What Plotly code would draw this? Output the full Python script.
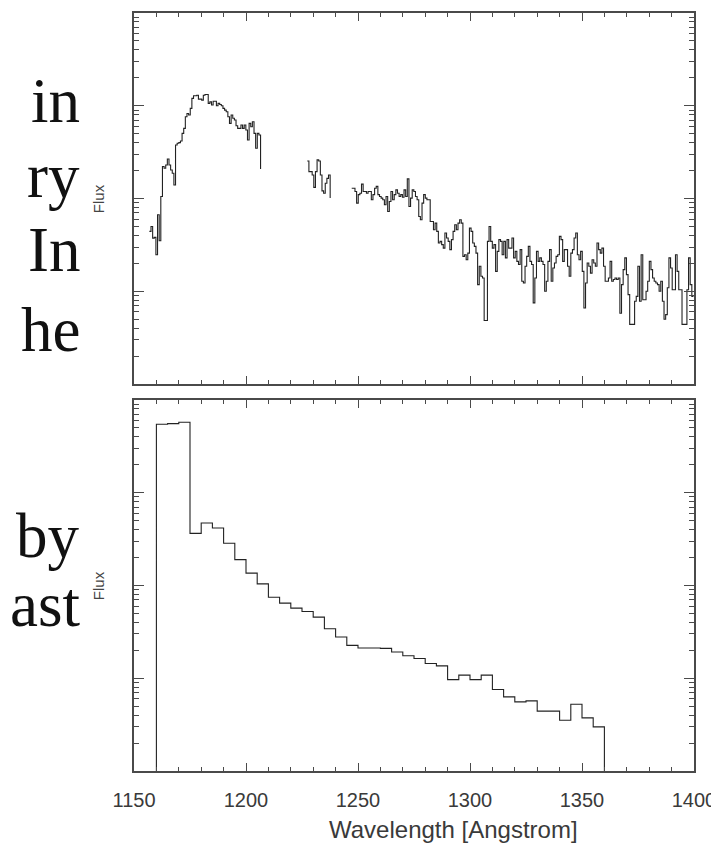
import plotly.graph_objects as go

# ---------------- data ----------------
# Top panel: observed spectrum (flux in arbitrary units, log axis), uniform dispersion
disp = 0.73  # Angstrom per bin
seg1_start = 1156.86
seg1_flux = [4.42, 5.00, 3.74, 3.81, 2.48, 6.67, 3.51, 10.5, 22.1, 21.2, 23.0, 26.7, 23.0, 20.3,
             18.7, 14.0, 37.8, 39.4, 40.0, 41.7, 50.4, 57.0, 76.2, 82.6, 79.4, 93.6, 120, 128,
             128, 130, 118, 118, 115, 130, 132, 132, 106, 110, 102, 112, 112, 100, 106, 103,
             100, 93.6, 89.8, 86.1, 76.2, 64.6, 79.4, 73.2, 70.2, 60.9, 57.0, 57.0, 62.0, 57.0,
             62.0, 54.7, 42.8, 64.6, 59.4, 67.3, 50.4, 34.8, 50.4, 48.4, 20.8]
seg2_start = 1227.35
seg2_flux = [25.4, 19.5, 19.5, 17.9, 13.2, 19.5, 26.1, 25.4, 17.9, 12.1, 11.4, 14.6, 16.5, 17.9, 10.1]
seg3_start = 1247.19
seg3_flux = [12.9, 12.9, 11.9, 8.91, 11.0, 11.4, 14.3, 11.9, 11.9, 11.4, 11.9, 11.9, 9.68, 11.0,
             12.9, 13.5, 11.0, 10.5, 10.1, 9.68, 8.55, 10.5, 7.24, 9.29, 11.9, 9.68, 11.0, 12.4,
             11.4, 10.5, 11.0, 10.3, 12.4, 10.5, 16.3, 8.20, 10.1, 12.4, 11.9, 10.5, 9.68, 6.41,
             5.90, 8.91, 11.0, 10.1, 9.68, 9.68, 5.66, 5.66, 4.60, 5.43, 4.42, 3.31, 3.45, 3.18,
             2.92, 4.24, 3.75, 3.45, 2.81, 3.60, 4.42, 5.21, 4.60, 5.43, 5.90, 5.43, 2.38, 2.48,
             2.19, 2.58, 4.80, 4.42, 3.31, 3.05, 2.58, 1.18, 1.86, 1.45, 1.39, 0.484, 0.484, 3.45,
             5.00, 3.45, 2.92, 3.18, 1.64, 2.69, 3.60, 3.45, 2.48, 3.45, 2.29, 3.60,
             2.92, 2.92, 3.75, 2.29, 2.69, 2.10, 1.94, 2.81, 1.28, 1.23, 1.86, 2.38, 3.05, 2.10,
             1.94, 0.75, 1.39, 2.69, 2.10, 2.29, 2.10, 1.94, 1.00, 1.28, 2.10, 2.81, 1.28, 1.78,
             2.02, 2.38, 2.48, 3.91, 3.60, 2.10, 2.81, 2.81, 1.86, 1.45, 2.58, 2.81, 3.75, 4.24,
             2.48, 2.19, 2.69, 1.64, 0.66, 1.23, 2.02, 1.86, 1.57, 2.19, 2.02, 1.86, 3.31, 2.81,
             2.58, 2.92, 1.86, 1.28, 1.28, 1.39, 2.10, 1.28, 1.34, 1.39, 1.34, 1.39, 0.58, 1.18,
             1.71, 2.29, 1.51, 0.92, 0.44, 0.44, 0.44, 0.78, 0.88, 1.86, 0.78, 2.48, 0.81, 0.81,
             1.00, 1.28, 2.10, 1.71, 1.39, 1.28, 1.23, 1.18, 1.00, 1.28, 0.78, 0.50, 0.56, 1.09,
             2.29, 1.78, 1.04, 1.04, 2.48, 1.64, 1.04, 1.04, 0.44, 0.44, 0.44, 1.04, 2.29, 1.18,
             0.88, 0.88]

# Bottom panel: binned spectrum, 5 Angstrom bins from 1160 to 1360
bin_edges = list(range(1160, 1365, 5))
bin_flux = [547, 556, 575, 36.5, 47.2, 41.7, 28.5, 19.0, 13.6, 10.4, 7.48, 6.46, 5.70, 5.25,
            4.56, 3.42, 2.78, 2.26, 2.12, 2.12, 2.10, 1.92, 1.75, 1.63, 1.44, 1.36, 0.967, 1.08,
            0.967, 1.08, 0.755, 0.630, 0.556, 0.570, 0.442, 0.442, 0.353, 0.525, 0.374, 0.299]
baseline = 1e-3

x_range = [1150, 1400]
side_text = ["in", "ry", "In", "he", "by", "ast"]

# ---------------- figure ----------------
LINE = "#222222"
AX = "#4a4a4a"
OFF = 8  # page body margin
W, H = 711, 844
ML, MR, MT, MB = 126, 14, 3, 81
plot_w = W - ML - MR
plot_h = H - MT - MB

fig = go.Figure()

def seg(start, vals):
    xs = [start + i * disp for i in range(len(vals))]
    return xs, vals

for s, v in [(seg1_start, seg1_flux), (seg2_start, seg2_flux), (seg3_start, seg3_flux)]:
    xs, ys = seg(s, v)
    fig.add_trace(go.Scatter(x=xs, y=ys, mode="lines", line=dict(color=LINE, width=1.1, shape="hv"),
                             xaxis="x", yaxis="y", showlegend=False, hoverinfo="skip"))

bx = [bin_edges[0]] + bin_edges
byv = [baseline] + bin_flux + [baseline]
fig.add_trace(go.Scatter(x=bx, y=byv, mode="lines", line=dict(color=LINE, width=1.1, shape="hv"),
                         xaxis="x2", yaxis="y2", showlegend=False, hoverinfo="skip"))

panel_h = 372
top_dom = [1 - panel_h / plot_h, 1]
bot_dom = [0, panel_h / plot_h]

xcommon = dict(range=x_range, tickmode="linear", tick0=1150, dtick=50, ticks="inside", ticklen=8,
               tickwidth=1, tickcolor=AX, showline=True, linecolor=AX, linewidth=1.5, mirror="ticks",
               showgrid=False, zeroline=False,
               minor=dict(ticks="inside", dtick=10, ticklen=4, tickwidth=1, tickcolor=AX, showgrid=False))
ycommon = dict(type="log", range=[-1, 3], dtick=1, ticks="inside", ticklen=10, tickwidth=1, tickcolor=AX,
               showline=True, linecolor=AX, linewidth=1.5, mirror="ticks", showgrid=False, zeroline=False,
               showticklabels=False,
               minor=dict(ticks="inside", dtick="D1", ticklen=5, tickwidth=1, tickcolor=AX, showgrid=False))

fig.update_layout(
    width=W, height=H, margin=dict(l=ML, r=MR, t=MT, b=MB),
    paper_bgcolor="white", plot_bgcolor="white",
    font=dict(family="Liberation Sans, Arial, sans-serif", color="#333333"),
    xaxis=dict(**xcommon, domain=[0, 1], anchor="y", showticklabels=False),
    yaxis=dict(**ycommon, domain=top_dom, anchor="x"),
    xaxis2=dict(**xcommon, domain=[0, 1], anchor="y2", showticklabels=True,
                tickfont=dict(size=20, color="#3a3a3a"), ticklabelstandoff=10,
                ticklabeloverflow="allow"),
    yaxis2=dict(**ycommon, domain=bot_dom, anchor="x2"),
)

def pxx(px):  # page pixel -> paper x
    return (px - OFF - ML) / plot_w

def pxy(py):  # page pixel -> paper y
    return (H - MB - (py - OFF)) / plot_h

ann = []
for yc in (197, 585):
    ann.append(dict(text="Flux", x=pxx(98), y=pxy(yc), xref="paper", yref="paper",
                    textangle=-90, showarrow=False, font=dict(size=15, color="#444444"),
                    xanchor="center", yanchor="middle"))
ann.append(dict(text="Wavelength [Angstrom]", x=pxx(460), y=pxy(830), xref="paper", yref="paper",
                showarrow=False, font=dict(size=24, color="#3a3a3a"), xanchor="center", yanchor="middle"))
text_base = [122, 198, 272, 352, 558, 628]
for word, base in zip(side_text, text_base):
    ann.append(dict(text=word, x=pxx(81), y=pxy(base + 14), xref="paper", yref="paper",
                    showarrow=False, font=dict(size=63, family="Liberation Serif, Times New Roman, serif", color="#111111"),
                    xanchor="right", yanchor="bottom"))
fig.update_layout(annotations=ann)

fig.write_html("out.html")
